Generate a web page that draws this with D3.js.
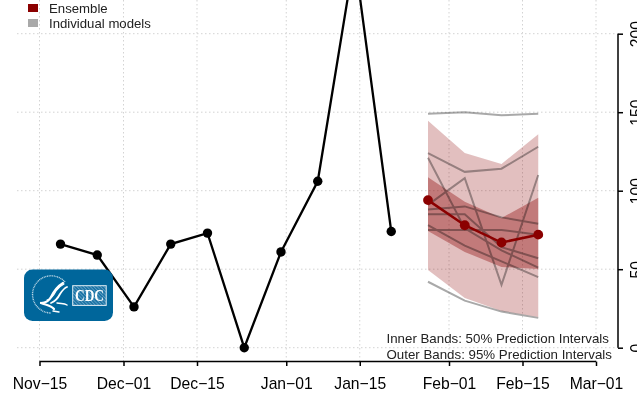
<!DOCTYPE html>
<html>
<head>
<meta charset="utf-8">
<style>
html,body{margin:0;padding:0;background:#fff;overflow:hidden}
svg{display:block;font-family:"Liberation Sans",Arial,sans-serif}
</style>
<script src="https://cdn.jsdelivr.net/npm/d3@7"></script>
</head>
<body>
<script>
const observedDates = ["2016-11-19","2016-11-26","2016-12-03","2016-12-10","2016-12-17","2016-12-24","2016-12-31","2017-01-07","2017-01-14","2017-01-21"];
const observedValues = [66,59,26,66,73,0,61,106,249,74];
const forecastDates = ["2017-01-28","2017-02-04","2017-02-11","2017-02-18"];
const ensembleValues = [94,78,67,72];
const outerUpper = [144.6,124,117,136];
const outerLower = [49.5,31.7,23.4,19.6];
const innerUpper = [108.5,93,82.6,95.5];
const innerLower = [74.3,61,51.4,50.1];
const modelA = [149,150,148,149];
const modelB = [124,112,114,128];
const modelC = [121,76,62,51];
const modelD = [91,108,40,110];
const modelE = [88,90,83,79];
const modelF = [85,85,64,57];
const modelG = [75,75,75,72];
const modelH = [78,65,55,45];
const modelI = [42,30,23,19];
const models = [modelA,modelB,modelC,modelD,modelE,modelF,modelG,modelH,modelI];
const xTickDates = ["2016-11-15","2016-12-01","2016-12-15","2017-01-01","2017-01-15","2017-02-01","2017-02-15","2017-03-01"];
const xTickLabels = ["Nov\u221215","Dec\u221201","Dec\u221215","Jan\u221201","Jan\u221215","Feb\u221201","Feb\u221215","Mar\u221201"];
const yTicks = [0,50,100,150,200];
const legendLabels = ["Ensemble","Individual models"];
const legendColors = ["#8b0000","#a9a9a9"];
const noteLines = ["Inner Bands: 50% Prediction Intervals","Outer Bands: 95% Prediction Intervals"];

const W = 637, H = 399;
const d = s => new Date(s + "T00:00:00Z");
const x = d3.scaleUtc().domain([d(xTickDates[0]), d(xTickDates[xTickDates.length-1])]).range([39.5,596]);
const y = d3.scaleLinear().domain([0,200]).range([347.7,33.7]);

const svg = d3.select("body").append("svg").attr("width",W).attr("height",H).attr("viewBox",`0 0 ${W} ${H}`);

// grid
const grid = svg.append("g").attr("stroke","#d3d3d3").attr("stroke-width",1).attr("stroke-dasharray","1.5 2.5").attr("fill","none");
grid.selectAll("line.v").data(xTickDates).join("line").attr("class","v")
  .attr("x1",t=>x(d(t))).attr("x2",t=>x(d(t))).attr("y1",0).attr("y2",361);
grid.selectAll("line.h").data(yTicks).join("line").attr("class","h")
  .attr("x1",17).attr("x2",618).attr("y1",t=>y(t)).attr("y2",t=>y(t));

// bands
const fx = forecastDates.map(d);
const area = (up,lo) => d3.area().x((_,i)=>x(fx[i])).y0((_,i)=>y(lo[i])).y1((_,i)=>y(up[i]))(up);
svg.append("path").attr("d",area(outerUpper,outerLower)).attr("fill","#8b0000").attr("fill-opacity",0.25);
svg.append("path").attr("d",area(innerUpper,innerLower)).attr("fill","#8b0000").attr("fill-opacity",0.36);

// individual models
const mLine = d3.line().x((_,i)=>x(fx[i])).y(v=>y(v));
svg.append("g").attr("fill","none").attr("stroke","#a9a9a9").attr("stroke-width",2)
  .style("mix-blend-mode","multiply")
  .selectAll("path").data(models).join("path").attr("d",m=>mLine(m));

// ensemble
svg.append("path").attr("d",mLine(ensembleValues)).attr("fill","none").attr("stroke","#8b0000").attr("stroke-width",2.5);
svg.selectAll("circle.e").data(ensembleValues).join("circle").attr("class","e")
  .attr("cx",(_,i)=>x(fx[i])).attr("cy",v=>y(v)).attr("r",4.9).attr("fill","#8b0000");

// observed
const ox = observedDates.map(d);
svg.append("path").attr("d",d3.line().x((_,i)=>x(ox[i])).y(v=>y(v))(observedValues))
  .attr("fill","none").attr("stroke","#000").attr("stroke-width",2.3);
svg.selectAll("circle.o").data(observedValues).join("circle").attr("class","o")
  .attr("cx",(_,i)=>x(ox[i])).attr("cy",v=>y(v)).attr("r",4.7).attr("fill","#000");

// x axis
const xAxis = d3.axisBottom(x).tickValues(xTickDates.map(d)).tickSize(4.5).tickPadding(12)
  .tickFormat((_,i)=>xTickLabels[i]);
const gx = svg.append("g").attr("transform","translate(0,361.5)").call(xAxis);
gx.select(".domain").attr("stroke","#000").attr("stroke-width",1.5).attr("d","M39.5,0H596");
gx.selectAll(".tick line").attr("stroke","#000").attr("stroke-width",1.5);
gx.selectAll(".tick text").attr("fill","#000").attr("font-size",15.7).attr("font-family","Liberation Sans").attr("dy","0.71em");

// y axis
const yAxis = d3.axisRight(y).tickValues(yTicks).tickSize(5).tickFormat(d3.format("d"));
const gy = svg.append("g").attr("transform","translate(618,0)").call(yAxis);
gy.select(".domain").attr("stroke","#000").attr("stroke-width",1.5).attr("d",`M0,${y(0)}V${y(200)}`);
gy.selectAll(".tick line").attr("stroke","#000").attr("stroke-width",1.5);
gy.selectAll(".tick text").attr("fill","#000").attr("font-size",15.7).attr("font-family","Liberation Sans")
  .attr("x",null).attr("dy",null).attr("text-anchor","middle")
  .attr("transform","translate(24,0) rotate(-90)");

// legend
const lg = svg.append("g");
lg.selectAll("rect").data(legendLabels).join("rect")
  .attr("x",28).attr("y",(_,i)=>4+i*15).attr("width",10).attr("height",8).attr("fill",(_,i)=>legendColors[i]);
lg.selectAll("text").data(legendLabels).join("text")
  .attr("x",49).attr("y",(_,i)=>13.2+i*15).attr("font-size",13.2).attr("fill","#222").text(t=>t);

// notes
svg.append("g").selectAll("text").data(noteLines).join("text")
  .attr("x",386.5).attr("y",(_,i)=>343.3+i*16).attr("font-size",13.3).attr("fill","#222").text(t=>t);

// logo
const logo = svg.append("g");
const hatch = svg.append("defs").append("pattern").attr("id","cdcHatch").attr("width",2.4).attr("height",2.4)
  .attr("patternUnits","userSpaceOnUse").attr("patternTransform","rotate(-45)");
hatch.append("rect").attr("width",2.4).attr("height",2.4).attr("fill","#1c74a6");
hatch.append("rect").attr("width",0.8).attr("height",2.4).attr("fill","#5f9fc3");
logo.append("rect").attr("x",24).attr("y",269.5).attr("width",89).attr("height",51.5).attr("rx",8.5).attr("fill","#00669b");
logo.append("path").attr("d","M65,282 A18.6,18.6 0 1 0 51,313")
  .attr("fill","none").attr("stroke","#bcd7e6").attr("stroke-width",1.4).attr("stroke-dasharray","1 0.7");
logo.append("g").attr("fill","none").attr("stroke","#fff").attr("stroke-linecap","round")
  .selectAll("path").data([
    ["M41,303 C46,303 49,301 51,297 C54,291 58,286 63,283",2.2],
    ["M47,300 C51,299 54,295 56,291 C58,288 60,286 64,284",1.2],
    ["M51,303 C56,301 58,298 60,294 C62,291 64,288 67,287",1.8],
    ["M41,303 C46,305 51,305 54,309",2.2],
    ["M57,303 C61,304 64,303 67,305",1.5],
    ["M53,311 L59,312",1.4]
  ]).join("path").attr("d",p=>p[0]).attr("stroke-width",p=>p[1]);
logo.append("rect").attr("x",72.7).attr("y",285.7).attr("width",33.5).attr("height",19.7)
  .attr("fill","url(#cdcHatch)").attr("stroke","#e4eff5").attr("stroke-width",1);
logo.append("text").attr("x",89.5).attr("y",300.8).attr("text-anchor","middle")
  .attr("font-family","Liberation Serif").attr("font-weight","bold").attr("font-size",16.5)
  .attr("textLength",29).attr("lengthAdjust","spacingAndGlyphs").attr("fill","#fff").text("CDC");
</script>
</body>
</html>
